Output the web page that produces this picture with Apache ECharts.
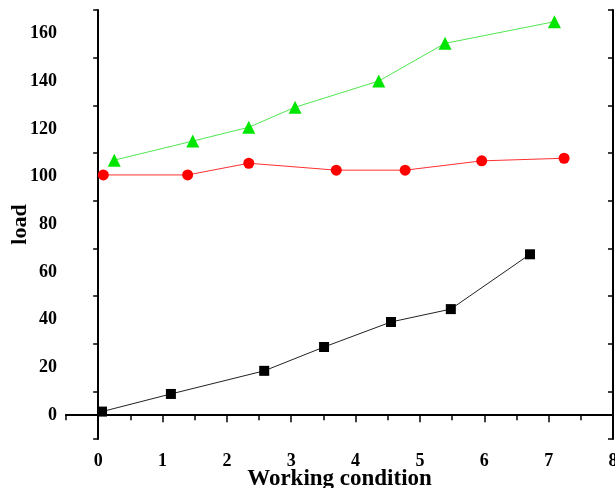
<!DOCTYPE html>
<html>
<head>
<meta charset="utf-8">
<script src="https://cdn.jsdelivr.net/npm/echarts@6/dist/echarts.min.js"></script>
<style>
  html, body { margin: 0; padding: 0; background: #fff; }
  #main { width: 615px; height: 488px; }
</style>
</head>
<body>
<div id="main"></div>
<script>
// data: [x, load]
var blackX = [0.06, 1.13, 2.58, 3.51, 4.55, 5.48, 6.71];
var blackY = [1.5, 8.9, 18.6, 28.6, 39.1, 44.5, 67.5];
var redX = [0.08, 1.39, 2.34, 3.70, 4.77, 5.96, 7.24];
var redY = [100.8, 100.8, 105.7, 102.8, 102.8, 106.7, 107.8];
var greenX = [0.25, 1.47, 2.34, 3.06, 4.36, 5.39, 7.09];
var greenY = [107.0, 115.0, 120.8, 129.2, 140.2, 156.0, 165.1];
// bottom tick labels, one per half step from -0.5 to 8
var xTickLabels = ['', '0', '', '1', '', '2', '', '3', '', '4', '', '5', '', '6', '', '7', '', '8'];

function pairs(xs, ys) {
    var out = [];
    for (var i = 0; i < xs.length; i++) {
        out.push([xs[i], ys[i]]);
    }
    return out;
}

var myChart = echarts.init(document.getElementById('main'));
var fontFam = '"Liberation Serif", "DejaVu Serif", serif';
var frame = { show: true, lineStyle: { color: '#000', width: 2 } };

var option = {
    animation: false,
    backgroundColor: '#fff',
    grid: { left: 66, right: 2, top: 10, bottom: 49, containLabel: false, outerBoundsMode: 'none' },
    xAxis: [
        {
            type: 'value', position: 'bottom', min: -0.5, max: 8, interval: 0.5,
            axisLine: frame,
            axisTick: { show: true, inside: false, length: 4, lineStyle: { color: '#000', width: 1.5 } },
            axisLabel: { show: false },
            splitLine: { show: false },
            name: 'Working condition', nameLocation: 'middle', nameGap: 29, nameMoveOverlap: false,
            nameTextStyle: { fontFamily: fontFam, fontWeight: 'bold', fontSize: 23, color: '#000' }
        },
        {
            type: 'category', position: 'bottom', data: xTickLabels, boundaryGap: false,
            axisLine: { show: false },
            axisTick: {
                show: true, inside: false, length: 7,
                interval: function (i) { return i % 2 === 1; },
                lineStyle: { color: '#000', width: 1.5 }
            },
            axisLabel: {
                show: true, interval: 0, margin: 13,
                fontFamily: fontFam, fontWeight: 'bold', fontSize: 18, color: '#000'
            },
            splitLine: { show: false }
        },
        {
            type: 'value', position: 'top', min: -0.5, max: 8, interval: 1,
            axisLine: frame,
            axisTick: { show: true, inside: true, length: 5, lineStyle: { color: '#000', width: 1.5 } },
            axisLabel: { show: false },
            splitLine: { show: false }
        }
    ],
    yAxis: [
        {
            type: 'value', position: 'left', min: -10, max: 170, interval: 10,
            axisLine: frame,
            axisTick: { show: false },
            axisLabel: {
                show: true, margin: 9,
                formatter: function (v) { return (v >= 0 && v % 20 === 0) ? String(v) : ''; },
                fontFamily: fontFam, fontWeight: 'bold', fontSize: 18, color: '#000'
            },
            splitLine: { show: false },
            name: 'load', nameLocation: 'middle', nameGap: 35, nameMoveOverlap: false,
            nameTextStyle: { fontFamily: fontFam, fontWeight: 'bold', fontSize: 22, color: '#000' }
        },
        {
            type: 'value', position: 'left', min: -10, max: 170, interval: 20,
            axisLine: { show: false },
            axisTick: { show: true, inside: false, length: 5, lineStyle: { color: '#000', width: 1.5 } },
            axisLabel: { show: false },
            splitLine: { show: false }
        },
        {
            type: 'value', position: 'right', min: -10, max: 170, interval: 20,
            axisLine: frame,
            axisTick: { show: true, inside: true, length: 5, lineStyle: { color: '#000', width: 1.5 } },
            axisLabel: { show: false },
            splitLine: { show: false }
        }
    ],
    series: [
        {
            name: 'black', type: 'line', xAxisIndex: 0, yAxisIndex: 0,
            data: pairs(blackX, blackY),
            symbol: 'rect', symbolSize: 10,
            itemStyle: { color: '#000' },
            lineStyle: { color: '#222', width: 1 }
        },
        {
            name: 'red', type: 'line', xAxisIndex: 0, yAxisIndex: 0,
            data: pairs(redX, redY),
            symbol: 'circle', symbolSize: 11,
            itemStyle: { color: '#ff0000' },
            lineStyle: { color: '#ff3030', width: 1 }
        },
        {
            name: 'green', type: 'line', xAxisIndex: 0, yAxisIndex: 0,
            data: pairs(greenX, greenY),
            symbol: 'triangle', symbolSize: 13,
            itemStyle: { color: '#00e600' },
            lineStyle: { color: '#50e850', width: 1 }
        }
    ]
};

myChart.setOption(option);
</script>
</body>
</html>
